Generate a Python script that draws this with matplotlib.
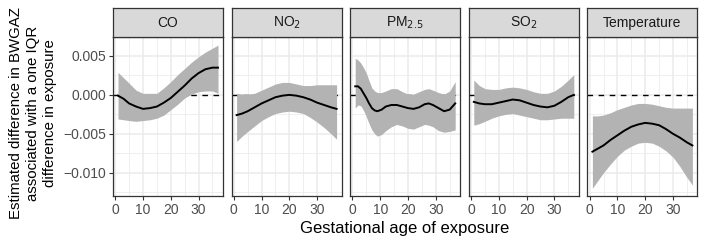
import matplotlib
matplotlib.use("Agg")
import matplotlib.pyplot as plt
from matplotlib.ticker import MultipleLocator

plt.rcParams['font.family'] = ['Liberation Sans', 'DejaVu Sans']

panels = ['CO', 'NO$_2$', 'PM$_{2.5}$', 'SO$_2$', 'Temperature']

# gestational week readings
weeks = [1, 3, 5, 7.5, 10, 12.5, 15, 17.5, 20, 22.5, 25, 27.5, 30, 32.5, 35, 37]

co_fit = [-0.0001, -0.0005, -0.0011, -0.0015, -0.0018, -0.0017, -0.0015, -0.0010,
          -0.0004, 0.0004, 0.0012, 0.0021, 0.0028, 0.0033, 0.0035, 0.0035]
co_lo = [-0.0031, -0.0032, -0.0033, -0.0034, -0.0033, -0.0032, -0.0030, -0.0026,
         -0.0019, -0.0012, -0.0004, 0.0001, 0.0004, 0.0005, 0.0005, 0.0002]
co_hi = [0.0029, 0.0022, 0.0015, 0.0006, 0.0002, 0.0002, 0.0002, 0.0009,
         0.0017, 0.0026, 0.0034, 0.0042, 0.0049, 0.0055, 0.0060, 0.0064]

no2_fit = [-0.0026, -0.0024, -0.0021, -0.0016, -0.0011, -0.0007, -0.0003, -0.0001,
           0.0000, -0.0001, -0.0003, -0.0006, -0.0010, -0.0013, -0.0016, -0.0018]
no2_lo = [-0.0060, -0.0053, -0.0047, -0.0040, -0.0033, -0.0028, -0.0024, -0.0022,
          -0.0021, -0.0022, -0.0024, -0.0029, -0.0035, -0.0042, -0.0050, -0.0057]
no2_hi = [0.0002, 0.0001, 0.0001, 0.0002, 0.0006, 0.0010, 0.0014, 0.0016,
          0.0016, 0.0014, 0.0012, 0.0012, 0.0013, 0.0013, 0.0013, 0.0013]

weeks_pm = [1, 2, 3, 4, 5, 6, 7, 8, 9, 10.5, 12, 14, 16, 18, 20, 22, 24, 26, 27.5,
            29, 31, 33, 35, 37]
pm_fit = [0.0011, 0.0011, 0.0008, 0.0002, -0.0004, -0.0011, -0.0017, -0.0020, -0.0021,
          -0.0019, -0.0015, -0.0013, -0.0013, -0.0015, -0.0017, -0.0018, -0.0016, -0.0012,
          -0.0011, -0.0013, -0.0017, -0.0021, -0.0019, -0.0011]
pm_lo = [-0.0017, -0.0013, -0.0014, -0.0020, -0.0028, -0.0037, -0.0045, -0.0050, -0.0053,
         -0.0051, -0.0046, -0.0041, -0.0038, -0.0040, -0.0043, -0.0044, -0.0041, -0.0038,
         -0.0039, -0.0041, -0.0046, -0.0048, -0.0047, -0.0045]
pm_hi = [0.0047, 0.0045, 0.0041, 0.0035, 0.0028, 0.0018, 0.0009, 0.0005, 0.0003,
         0.0003, 0.0005, 0.0008, 0.0008, 0.0004, 0.0001, 0.0001, 0.0004, 0.0007,
         0.0008, 0.0006, 0.0003, 0.0001, 0.0005, 0.0017]

so2_fit = [-0.0009, -0.0011, -0.0012, -0.0012, -0.0010, -0.0008, -0.0006, -0.0007,
           -0.0010, -0.0013, -0.0015, -0.0016, -0.0014, -0.0009, -0.0003, 0.0000]
so2_lo = [-0.0039, -0.0037, -0.0034, -0.0030, -0.0027, -0.0025, -0.0024, -0.0026,
          -0.0028, -0.0030, -0.0032, -0.0032, -0.0031, -0.0030, -0.0030, -0.0030]
so2_hi = [0.0019, 0.0012, 0.0008, 0.0007, 0.0007, 0.0009, 0.0010, 0.0009,
          0.0007, 0.0004, 0.0002, 0.0002, 0.0005, 0.0011, 0.0019, 0.0026]

temp_fit = [-0.0073, -0.0069, -0.0065, -0.0058, -0.0052, -0.0046, -0.0041, -0.0038,
            -0.0036, -0.0037, -0.0039, -0.0044, -0.0050, -0.0055, -0.0061, -0.0065]
temp_lo = [-0.0120, -0.0110, -0.0100, -0.0089, -0.0079, -0.0071, -0.0066, -0.0062,
           -0.0061, -0.0062, -0.0066, -0.0072, -0.0080, -0.0092, -0.0106, -0.0116]
temp_hi = [-0.0027, -0.0027, -0.0026, -0.0023, -0.0019, -0.0016, -0.0013, -0.0011,
           -0.0011, -0.0012, -0.0014, -0.0016, -0.0017, -0.0017, -0.0017, -0.0017]

series = [
    (weeks, co_fit, co_lo, co_hi),
    (weeks, no2_fit, no2_lo, no2_hi),
    (weeks_pm, pm_fit, pm_lo, pm_hi),
    (weeks, so2_fit, so2_lo, so2_hi),
    (weeks, temp_fit, temp_lo, temp_hi),
]

W, H = 706, 245
fig = plt.figure(figsize=(W / 100, H / 100), dpi=100)

dark = '#333333'
for i, (name, (wk, fit, lo, hi)) in enumerate(zip(panels, series)):
    left = 113 + i * 118.6
    ax = fig.add_axes([left / W, (H - 196) / H, 110 / W, 159 / H])
    ax.set_xlim(-0.8, 38.8)
    ax.set_ylim(-0.0130, 0.00744)
    ax.xaxis.set_major_locator(MultipleLocator(10))
    ax.xaxis.set_minor_locator(MultipleLocator(5))
    ax.yaxis.set_major_locator(MultipleLocator(0.005))
    ax.yaxis.set_minor_locator(MultipleLocator(0.0025))
    ax.grid(which='major', color='#EBEBEB', linewidth=1.1)
    ax.grid(which='minor', color='#EBEBEB', linewidth=0.55)
    ax.set_axisbelow(True)
    ax.axhline(0, color='black', linestyle=(0, (4, 4)), linewidth=1.0, zorder=1)
    ax.fill_between(wk, lo, hi, color='#B3B3B3', linewidth=0, zorder=2)
    ax.plot(wk, fit, color='black', linewidth=1.4, zorder=3)
    for s in ax.spines.values():
        s.set_color(dark)
        s.set_linewidth(0.9)
    ax.tick_params(which='major', length=3, color=dark, labelsize=10,
                   labelcolor='#4D4D4D', pad=2)
    ax.tick_params(which='minor', length=0)
    if i == 0:
        ax.set_yticklabels([f'{v:.3f}'.replace('-', '\u2212') for v in ax.get_yticks()])
    else:
        ax.tick_params(axis='y', labelleft=False, length=0)

    sax = fig.add_axes([left / W, (H - 37) / H, 110 / W, 29 / H])
    sax.set_facecolor('#D9D9D9')
    sax.set_xticks([])
    sax.set_yticks([])
    for s in sax.spines.values():
        s.set_color(dark)
        s.set_linewidth(0.9)
    sax.text(0.5, 0.5, name, ha='center', va='center', fontsize=10,
             color='#1A1A1A', transform=sax.transAxes)

fig.text(405 / W, (H - 228) / H, 'Gestational age of exposure', ha='center',
         va='center', fontsize=12)
fig.text(33 / W, (H - 113) / H,
         'Estimated difference in BWGAZ\nassociated with a one IQR\ndifference in exposure',
         ha='center', va='center', rotation=90, fontsize=10.8, linespacing=1.3)

fig.savefig('out.png', dpi=100)
